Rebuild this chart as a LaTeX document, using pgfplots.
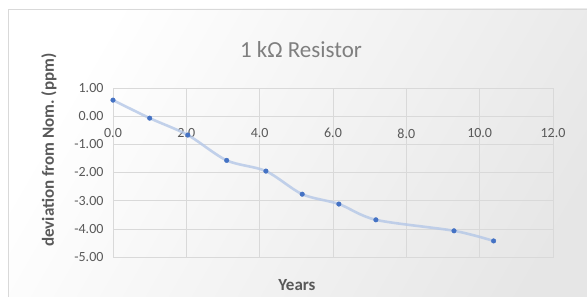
\documentclass[border=0pt]{standalone}
\usepackage{pgfplots}
\pgfplotsset{compat=1.18}
\usepackage{fontspec}
\setmainfont{Carlito}
\frenchspacing
\definecolor{txt}{HTML}{595959}
\definecolor{ttl}{HTML}{7F7F7F}
\definecolor{gridc}{HTML}{D9D9D9}
\definecolor{ptc}{HTML}{4472C4}
\definecolor{linec}{HTML}{B4C7E7}
\definecolor{bgend}{HTML}{E6E6E6}
\begin{document}
\begin{tikzpicture}
\useasboundingbox (0pt,0pt) rectangle (587pt,297pt);
\begin{scope}
\clip (0pt,0pt) rectangle (587pt,297pt);
\fill[white] (0pt,0pt) rectangle (587pt,297pt);
\shade[left color=white, right color=bgend, shading angle=60] (8pt,-20pt) rectangle (620pt,288pt);
\draw[gridc, line width=0.6pt] (8pt,-20pt) rectangle (620pt,288pt);
\end{scope}
\begin{axis}[
  at={(113pt,40pt)}, anchor=south west,
  scale only axis, width=440pt, height=169pt,
  xmin=0, xmax=12, ymin=-5, ymax=1,
  xtick={0,2,...,12}, ytick={-5,-4,...,1},
  grid=major, major grid style={gridc, line width=0.6pt},
  axis line style={gridc, line width=0.6pt},
  major tick length=0pt,
  tick label style={font=\fontsize{14}{16}\selectfont, text=txt},
  xticklabel style={yshift=132pt},
  xticklabel={\pgfmathprintnumber[fixed,fixed zerofill,precision=1]{\tick}},
  yticklabel={\pgfmathprintnumber[fixed,fixed zerofill,precision=2]{\tick}},
  yticklabel style={xshift=-6pt},
  /pgf/number format/assume math mode=true,
  clip=false,
]
\addplot[smooth, linec, line width=2.6pt, opacity=0.8] coordinates {
(0,0.57) (1.0,-0.07) (2.04,-0.67) (3.1,-1.57) (4.17,-1.95) (5.16,-2.77) (6.16,-3.12) (7.17,-3.68) (9.3,-4.07) (10.38,-4.43)
};
\addplot[only marks, mark=*, mark size=2.3pt, draw=ptc, fill=ptc] coordinates {
(0,0.57) (1.0,-0.07) (2.04,-0.67) (3.1,-1.57) (4.17,-1.95) (5.16,-2.77) (6.16,-3.12) (7.17,-3.68) (9.3,-4.07) (10.38,-4.43)
};
\end{axis}
\node[text=ttl, font=\fontsize{23}{26}\selectfont] at (301pt,247pt) {1 kΩ Resistor};
\node[text=txt, font=\fontsize{17}{20}\selectfont\bfseries] at (297pt,12pt) {Years};
\node[text=txt, font=\fontsize{17}{20}\selectfont\bfseries, rotate=90] at (49pt,147pt) {deviation from Nom. (ppm)};
\end{tikzpicture}
\end{document}
